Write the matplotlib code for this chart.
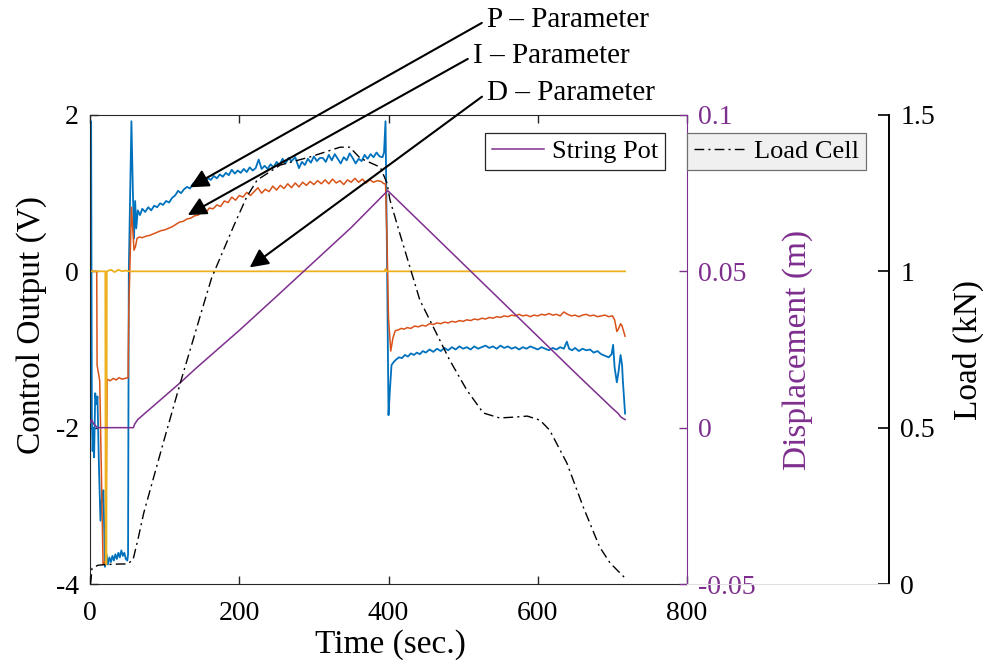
import matplotlib
matplotlib.use('Agg')
import matplotlib.pyplot as plt

plt.rcParams['font.family'] = ['Liberation Serif', 'DejaVu Serif']
plt.rcParams['axes.unicode_minus'] = False

# P - parameter (control output, V)
p_time = [0, 1.5, 2.5, 3.5, 4.5, 5.5, 7, 8.5, 10, 12, 14, 16, 18, 20, 22, 24, 26, 28, 30,
          32, 34, 36, 38, 40, 42, 44, 46, 48, 50, 51, 52, 55.5, 57.5, 59, 60.5, 62, 64, 67,
          70, 74, 78, 82, 86, 90, 94, 98, 102, 106, 110, 114, 118, 122, 126, 130, 134, 138,
          142, 146, 150, 154, 158, 162, 166, 170, 174, 178, 182, 186, 190, 194, 198, 202,
          206, 210, 214, 218, 222, 226, 230, 234, 238, 242, 246, 250, 254, 258, 262, 266,
          270, 275, 280, 284, 288, 292, 296, 300, 304, 308, 312, 316, 320, 324, 328, 332,
          336, 340, 344, 348, 352, 356, 360, 364, 368, 372, 376, 380, 384, 388, 392, 394,
          396, 398, 400, 402, 404, 407, 410, 414, 418, 422, 426, 430, 434, 438, 442, 446,
          450, 455, 460, 465, 470, 475, 480, 485, 490, 495, 500, 505, 510, 515, 520, 525,
          530, 535, 540, 545, 550, 555, 560, 565, 570, 575, 580, 585, 590, 595, 600, 605,
          610, 615, 620, 625, 630, 635, 639, 642, 646, 650, 655, 660, 665, 670, 675, 680,
          685, 690, 695, 699, 701, 703, 706, 708, 711, 713, 714, 717]
p_volt = [1.9, 1.92, -1.9, -2.3, -2.0, -2.38, -1.56, -1.7, -1.6, -2.5, -3.19, -2.9, -2.8,
          -3.78, -3.62, -3.75, -3.66, -3.72, -3.64, -3.70, -3.62, -3.68, -3.60, -3.66, -3.57,
          -3.64, -3.60, -3.68, -3.70, -3.62, 0.0, 1.92, 1.0, 0.42, 0.9, 0.55, 0.78, 0.72,
          0.80, 0.76, 0.82, 0.78, 0.84, 0.82, 0.87, 0.85, 0.90, 0.88, 0.94, 0.97, 1.03, 1.00,
          1.05, 1.08, 1.06, 1.12, 1.15, 1.12, 1.17, 1.14, 1.19, 1.17, 1.22, 1.19, 1.24, 1.21,
          1.26, 1.23, 1.30, 1.25, 1.29, 1.26, 1.31, 1.27, 1.33, 1.29, 1.32, 1.43, 1.31, 1.35,
          1.31, 1.37, 1.33, 1.40, 1.36, 1.44, 1.38, 1.45, 1.41, 1.46, 1.32, 1.40, 1.36, 1.44,
          1.39, 1.47, 1.41, 1.45, 1.45, 1.40, 1.49, 1.42, 1.50, 1.44, 1.38, 1.46, 1.42, 1.51,
          1.45, 1.38, 1.44, 1.41, 1.49, 1.44, 1.50, 1.46, 1.52, 1.47, 1.46, 1.52, 1.92, 0.2,
          -1.84, -1.5, -1.2, -1.16, -1.13, -1.10, -1.11, -1.07, -1.09, -1.05, -1.07, -1.04,
          -1.06, -1.02, -1.04, -1.00, -1.03, -0.99, -1.02, -0.98, -1.01, -0.97, -1.00, -0.96,
          -0.99, -0.97, -1.00, -0.96, -0.99, -0.97, -0.95, -0.98, -0.96, -0.99, -0.95, -0.98,
          -0.96, -0.99, -0.97, -1.00, -0.97, -0.99, -0.96, -0.98, -1.00, -0.97, -0.99, -1.01,
          -0.98, -1.00, -0.97, -0.99, -0.90, -0.99, -1.01, -0.98, -1.02, -0.99, -1.01, -1.00,
          -1.04, -1.02, -1.06, -1.08, -1.10, -1.06, -0.94, -1.23, -1.42, -1.30, -1.07, -1.20,
          -1.39, -1.82]

# I - parameter
i_time = [0, 9, 9.5, 13, 17.5, 21, 23, 27, 31, 35, 39, 43, 47, 51, 52, 55.5, 57.5, 59, 61,
          63, 66, 70, 75, 80, 85, 90, 95, 100, 105, 110, 115, 120, 125, 130, 135, 140, 145,
          150, 155, 160, 165, 170, 175, 180, 185, 190, 195, 200, 205, 210, 215, 220, 225,
          230, 235, 240, 245, 250, 255, 260, 265, 270, 275, 280, 285, 290, 295, 300, 305,
          310, 315, 320, 325, 330, 335, 340, 345, 350, 355, 360, 365, 370, 375, 380, 385,
          390, 394, 396, 398, 400, 403, 406, 409, 413, 417, 421, 425, 430, 435, 440, 445,
          450, 455, 460, 465, 470, 475, 480, 485, 490, 495, 500, 505, 510, 515, 520, 525,
          530, 535, 540, 545, 550, 555, 560, 565, 570, 575, 580, 585, 590, 595, 600, 605,
          610, 615, 620, 625, 630, 635, 640, 645, 650, 655, 660, 665, 670, 675, 680, 685,
          690, 695, 700, 703, 706, 708, 711, 713, 717]
i_volt = [0.0, 0.0, -1.2, -1.4, -3.75, -3.7, -1.38, -1.40, -1.37, -1.39, -1.36, -1.38, -1.37,
          -1.36, -0.5, 0.82, 0.5, 0.27, 0.32, 0.42, 0.44, 0.43, 0.45, 0.46, 0.48, 0.50, 0.52,
          0.53, 0.55, 0.57, 0.60, 0.63, 0.64, 0.67, 0.68, 0.71, 0.72, 0.76, 0.75, 0.81, 0.80,
          0.85, 0.83, 0.90, 0.88, 0.95, 0.91, 0.97, 0.95, 1.01, 0.97, 1.02, 1.07, 1.00, 1.05,
          1.02, 1.09, 1.04, 1.10, 1.06, 1.12, 1.07, 1.13, 1.08, 1.14, 1.10, 1.15, 1.11, 1.16,
          1.12, 1.17, 1.12, 1.18, 1.13, 1.16, 1.11, 1.17, 1.14, 1.19, 1.14, 1.18, 1.13, 1.17,
          1.14, 1.16, 1.15, 1.12, 1.12, 0.4, -0.6, -1.02, -0.85, -0.76, -0.75, -0.73, -0.74,
          -0.72, -0.73, -0.70, -0.71, -0.69, -0.70, -0.67, -0.68, -0.66, -0.67, -0.65, -0.66,
          -0.64, -0.65, -0.63, -0.64, -0.62, -0.63, -0.61, -0.62, -0.60, -0.61, -0.59, -0.60,
          -0.58, -0.59, -0.57, -0.58, -0.56, -0.57, -0.55, -0.57, -0.56, -0.58, -0.56, -0.57,
          -0.55, -0.56, -0.54, -0.56, -0.55, -0.57, -0.52, -0.55, -0.57, -0.56, -0.58, -0.56,
          -0.55, -0.57, -0.56, -0.58, -0.57, -0.56, -0.58, -0.57, -0.62, -0.77, -0.74, -0.67,
          -0.70, -0.83]

# D - parameter
d_time = [0, 20.5, 21, 22, 22.5, 28, 33, 38, 43, 48, 53, 395, 396, 397, 717]
d_volt = [0.0, 0.0, -3.75, -3.75, 0.0, 0.02, -0.01, 0.02, 0.0, 0.01, 0.0, 0.0, 0.03, 0.0, 0.0]

# string pot (displacement, m)
sp_time = [0, 2, 5, 10, 58, 60, 64, 121, 143, 200, 250, 300, 350, 399, 450, 500, 550, 600,
           650, 700, 708, 711, 714, 717]
sp_disp = [0.0016, 0.0025, 0.0012, 0.0, 0.0, 0.0012, 0.0026, 0.0144, 0.0192, 0.0311, 0.0420,
           0.0530, 0.0640, 0.0758, 0.0640, 0.0524, 0.0408, 0.0292, 0.0176, 0.0062, 0.0045,
           0.0035, 0.0030, 0.0026]

# load cell (kN)
lc_time = [0.5, 1.3, 2.7, 10.7, 20, 30, 40, 50, 57.6, 64, 72, 98, 121, 154, 163, 192, 210,
           224, 255, 295, 335, 348, 362, 389, 398, 402, 415, 442, 460, 482, 505, 527, 549,
           570, 586, 603, 616, 639, 661, 683, 697, 717]
lc_load = [0.0, 0.013, 0.05, 0.06, 0.062, 0.063, 0.064, 0.064, 0.077, 0.14, 0.227, 0.45,
           0.643, 0.908, 0.979, 1.142, 1.238, 1.292, 1.34, 1.366, 1.397, 1.397, 1.362, 1.333,
           1.282, 1.228, 1.122, 0.908, 0.822, 0.716, 0.62, 0.547, 0.531, 0.534, 0.537, 0.524,
           0.492, 0.387, 0.246, 0.118, 0.067, 0.019]

x_ticks = [0, 200, 400, 600, 800]
v_ticks = [-4, -2, 0, 2]
disp_ticks = [-0.05, 0, 0.05, 0.1]
disp_labels = ['-0.05', '0', '0.05', '0.1']
load_ticks = [0, 0.5, 1, 1.5]
load_labels = ['0', '0.5', '1', '1.5']

blue, orange, yellow, purple = '#0072BD', '#D95319', '#EDB120', '#7E2F8E'
W, H = 992, 667
left, bottom, width, height = 90 / W, (H - 584) / H, 597 / W, 469 / H
width3 = 799 / W

fig = plt.figure(figsize=(9.92, 6.67), dpi=100)
ax = fig.add_axes([left, bottom, width, height])
ax.plot(p_time, p_volt, color=blue, lw=1.3)
ax.plot(i_time, i_volt, color=orange, lw=1.1)
ax.plot(d_time, d_volt, color=yellow, lw=1.3)
ax.set_xlim(0, 800)
ax.set_ylim(-4, 2)
ax.set_xticks(x_ticks)
ax.set_yticks(v_ticks)
ax.tick_params(direction='in', length=6, width=1, labelsize=20, top=True, right=False,
               colors='#262626', labelcolor='black')
ax.tick_params(axis='x', pad=12)
ax.tick_params(axis='y', pad=8)
for s in ['left', 'bottom', 'top']:
    ax.spines[s].set_color('#262626')
ax.spines['right'].set_visible(False)
ax.set_xlabel('Time (sec.)', fontsize=24)
ax.set_ylabel('Control Output (V)', fontsize=24)
ax.xaxis.set_label_coords(0.5025, -0.096)
ax.yaxis.set_label_coords(-0.072, 0.552)

ax2 = ax.twinx()
ax2.plot(sp_time, sp_disp, color=purple, lw=1.1, label='String Pot')
ax2.set_ylim(-0.05, 0.1)
ax2.set_yticks(disp_ticks)
ax2.set_yticklabels(disp_labels)
for s in ['left', 'bottom', 'top']:
    ax2.spines[s].set_visible(False)
ax2.spines['right'].set_color(purple)
ax2.tick_params(direction='in', length=6, width=1, labelsize=20, colors=purple, pad=8)
ax2.set_ylabel('Displacement (m)', fontsize=24, color=purple)
ax2.yaxis.set_label_coords(1.16, 0.5)
leg2 = ax2.legend(loc='upper left', bbox_to_anchor=(485 / W, (H - 133) / H),
                  bbox_transform=fig.transFigure, borderaxespad=0, fancybox=False,
                  fontsize=19, handlelength=2.0, borderpad=0.25, handletextpad=0.3,
                  framealpha=1)
leg2.get_frame().set_edgecolor('#262626')
leg2.get_frame().set_linewidth(0.9)

ax3 = fig.add_axes([left, bottom, width3, height])
ax3.patch.set_alpha(0)
xmax3 = 800 * width3 / width
ax3.plot(lc_time, lc_load, color='black', lw=1.0, dashes=(7, 3, 1.5, 3), label='Load Cell')
ax3.set_xlim(0, xmax3)
ax3.set_ylim(0, 1.5)
ax3.set_xticks([])
ax3.set_yticks(load_ticks)
ax3.set_yticklabels(load_labels)
ax3.yaxis.tick_right()
ax3.yaxis.set_label_position('right')
ax3.tick_params(axis='y', direction='in', length=8, width=1.2, labelsize=20, pad=8)
for s in ['left', 'top']:
    ax3.spines[s].set_visible(False)
ax3.spines['right'].set_linewidth(1.4)
ax3.spines['bottom'].set_bounds(800, xmax3)
ax3.spines['bottom'].set_color('#e0e0e0')
ax3.set_ylabel('Load (kN)', fontsize=24)
ax3.yaxis.set_label_coords(1.08, 0.5)
leg3 = ax3.legend(loc='upper left', bbox_to_anchor=(687 / W, (H - 133) / H),
                  bbox_transform=fig.transFigure, borderaxespad=0, fancybox=False,
                  fontsize=19, handlelength=2.0, borderpad=0.25, handletextpad=0.3,
                  framealpha=1, facecolor='#f0f0f0')
leg3.get_frame().set_edgecolor('#707070')
leg3.get_frame().set_linewidth(0.9)

# callouts for the three PID terms
notes = [('P – Parameter', 134, 1.075, 487, H - 20),
         ('I – Parameter', 131, 0.72, 473, H - 56),
         ('D – Parameter', 214, 0.05, 487, H - 93)]
for txt, tx, ty, px, py in notes:
    ax3.annotate(txt, xy=(tx, ty), xycoords=ax.transData, xytext=(px, py),
                 textcoords='figure pixels', fontsize=21, ha='left', va='center',
                 annotation_clip=False,
                 arrowprops=dict(arrowstyle='-|>', color='black', lw=1.5,
                                 mutation_scale=28, shrinkA=2, shrinkB=0,
                                 relpos=(0, 0.5)))

fig.savefig('out.png', dpi=100)
